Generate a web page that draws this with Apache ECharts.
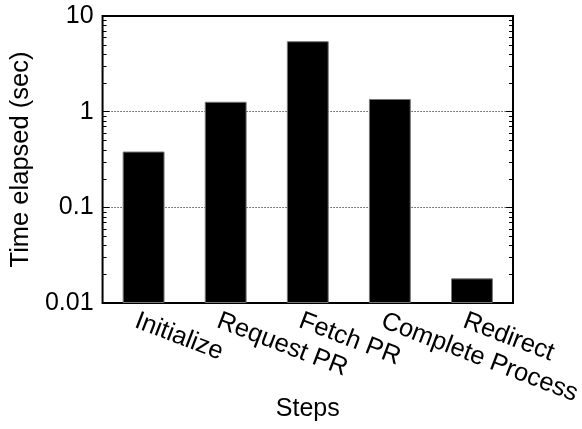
<!DOCTYPE html>
<html>
<head>
<meta charset="utf-8">
<script src="https://cdn.jsdelivr.net/npm/echarts@6/dist/echarts.min.js"></script>
<style>html,body{margin:0;padding:0;background:#fff}#c{width:582px;height:429px}</style>
</head>
<body>
<div id="c"></div>
<script>
const categories = ['Initialize', 'Request PR', 'Fetch PR', 'Complete Process', 'Redirect'];
const timeElapsed = [0.383, 1.27, 5.45, 1.357, 0.0181];
const yTickValues = [0.01, 0.1, 1, 10];
const yMin = 0.01, yMax = 10;
const minorMultipliers = [2, 3, 4, 5, 6, 7, 8, 9];
const minorDecades = [0.01, 0.1, 1];

const FONT = "'Liberation Sans', Arial, Helvetica, sans-serif";
const minorVals = [];
minorDecades.forEach(d => minorMultipliers.forEach(m => minorVals.push([0, m * d])));

const chart = echarts.init(document.getElementById('c'), null, {renderer: 'canvas'});
const fmt = v => String(parseFloat(Number(v).toPrecision(6)));

chart.setOption({
  animation: false,
  backgroundColor: '#fff',
  grid: {left: 97, right: 69, top: 16, bottom: 126, show: true, borderColor: '#000', borderWidth: 2, backgroundColor: 'transparent', containLabel: false},
  xAxis: {
    type: 'category', data: categories,
    axisLine: {show: false}, axisTick: {show: false}, axisLabel: {show: false},
    name: 'Steps', nameLocation: 'middle', nameGap: 94,
    nameTextStyle: {fontFamily: FONT, fontSize: 25, color: '#000'}
  },
  yAxis: [{
    type: 'log', logBase: 10, min: yMin, max: yMax, startValue: yMin,
    position: 'left',
    axisLine: {show: false},
    axisTick: {show: true, inside: true, length: 7, lineStyle: {color: '#000', width: 1}},
    axisLabel: {fontFamily: FONT, fontSize: 25, color: '#000', margin: 9, formatter: fmt},
    splitLine: {show: true, lineStyle: {color: '#000', width: 1, type: [1, 2]}},
    minorTick: {show: false},
    name: 'Time elapsed (sec)', nameLocation: 'middle', nameGap: 65, nameRotate: 90,
    nameTextStyle: {fontFamily: FONT, fontSize: 25.5, color: '#000'}
  }, {
    type: 'log', logBase: 10, min: yMin, max: yMax,
    position: 'right',
    axisLine: {show: false},
    axisTick: {show: true, inside: true, length: 7, lineStyle: {color: '#000', width: 1}},
    axisLabel: {show: false},
    splitLine: {show: false}
  }],
  series: [{
    type: 'bar', data: timeElapsed, barWidth: '51%',
    itemStyle: {color: '#000', borderColor: '#777', borderWidth: 1},
    silent: true
  }, {
    type: 'custom', silent: true, clip: false,
    data: minorVals,
    renderItem: function (params, api) {
      const p = api.coord([0, api.value(1)]);
      const cs = params.coordSys;
      const y = Math.round(p[1]) + 0.5;
      return {type: 'group', children: [
        {type: 'line', shape: {x1: cs.x, y1: y, x2: cs.x + 4, y2: y}, style: {stroke: '#000', lineWidth: 1}},
        {type: 'line', shape: {x1: cs.x + cs.width - 4, y1: y, x2: cs.x + cs.width, y2: y}, style: {stroke: '#000', lineWidth: 1}}
      ]};
    },
    z: 5
  }, {
    type: 'custom', silent: true, clip: false,
    data: categories.map((c, i) => [i, yMin]),
    renderItem: function (params, api) {
      const p = api.coord([api.value(0), api.value(1)]);
      return {
        type: 'text', x: p[0] - 3, y: p[1] + 5, rotation: -21 * Math.PI / 180,
        style: {text: categories[params.dataIndex], font: '25.5px ' + FONT, fill: '#000', align: 'left', verticalAlign: 'top'}
      };
    },
    z: 5
  }]
});
</script>
</body>
</html>
